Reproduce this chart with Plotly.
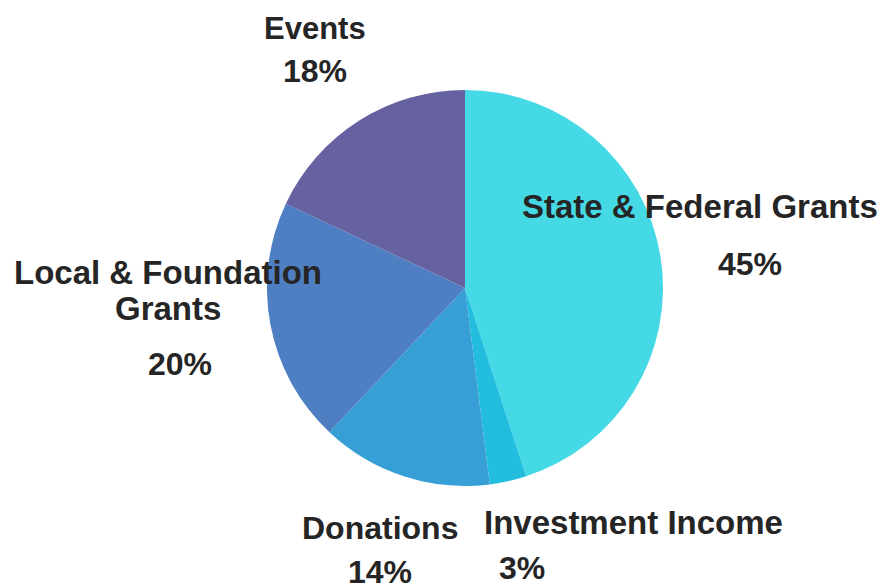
import plotly.graph_objects as go

categories = ["State & Federal Grants", "Investment Income", "Donations",
              "Local & Foundation<br>Grants", "Events"]
values = [45, 3, 14, 20, 18]
colors = ["#45D9E6", "#22BDDF", "#379FD6", "#4E7FC2", "#6661A0"]

W, H = 895, 584
OFF = 8  # page body margin
# label placement (page pixel centres of first line) for name and percent text
name_pos = [(700, 207), (633, 522), (380, 528), (168, 272), (315, 28)]
name_size = [33, 33, 32, 33, 31]
LINE_GAP = 36
pct_pos = [(750, 264), (522, 568), (380, 572), (180, 364), (315, 71)]


def px(x):
    return (x - OFF) / W


def py(y):
    return 1 - (y - OFF) / H


fig = go.Figure(go.Pie(
    labels=categories, values=values, sort=False, direction="clockwise",
    rotation=0, marker=dict(colors=colors, line=dict(width=0)),
    textinfo="none", hoverinfo="label+percent", showlegend=False,
    domain=dict(x=[px(267), px(663)], y=[py(486), py(90)]),
))

ann = []
total = sum(values)
for name, v, (nx, ny), fs, (qx, qy) in zip(categories, values, name_pos, name_size, pct_pos):
    for i, line in enumerate(name.split("<br>")):
        ann.append(dict(text=f"<b>{line}</b>", x=px(nx), y=py(ny + i * LINE_GAP),
                        xref="paper", yref="paper",
                        showarrow=False, xanchor="center", yanchor="middle",
                        font=dict(family="Liberation Sans, Arial, sans-serif", size=fs,
                                  color="#252525")))
    ann.append(dict(text=f"<b>{round(100 * v / total)}%</b>", x=px(qx), y=py(qy),
                    xref="paper", yref="paper", showarrow=False,
                    xanchor="center", yanchor="middle",
                    font=dict(family="Liberation Sans, Arial, sans-serif", size=32, color="#252525")))

fig.update_layout(width=W, height=H, margin=dict(l=0, r=0, t=0, b=0),
                  paper_bgcolor="white", plot_bgcolor="white", annotations=ann)
fig.write_html("out.html")
